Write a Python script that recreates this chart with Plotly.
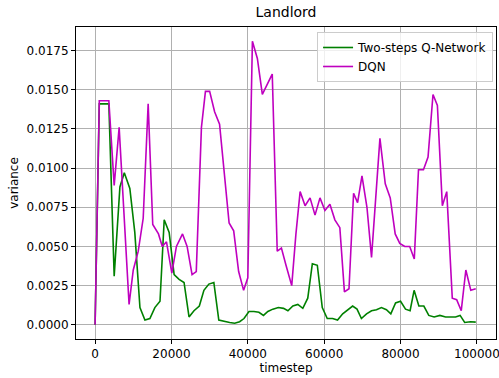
import plotly.graph_objects as go

# ---- data ----
green_x = [0, 1100, 3600, 5000, 6500, 7650, 9100, 10400, 11750, 13050,
           14350, 15650, 17000, 18100, 19400, 20700, 22000, 23300, 24600, 25900,
           27300, 28500, 29800, 31100, 32400, 33950, 35250, 36550, 37850, 39000,
           40300, 41600, 42900, 44100, 45250, 46550, 48000, 49350, 50500, 51800,
           53100, 54400, 55700, 56900, 58200, 59500, 60800, 62200, 63500, 64850,
           66150, 67450, 68600, 69750, 71100, 72400, 73700, 75000, 76300, 77450,
           78700, 80000, 81300, 82500, 83550, 84800, 86100, 87400, 88800, 90300,
           91800, 93100, 94400, 95600, 96800, 98300, 99700]
green_y = [0.0, 0.0141, 0.0141, 0.0031, 0.0088, 0.0097, 0.0087, 0.0059, 0.0011, 0.0003,
           0.0004, 0.0011, 0.0015, 0.0067, 0.0059, 0.0032, 0.0029, 0.0027, 0.0005, 0.0009,
           0.0012, 0.0022, 0.0026, 0.0027, 0.0003, 0.0002, 0.00015, 0.0001, 0.0002, 0.0004,
           0.00085, 0.00085, 0.0008, 0.0006, 0.00085, 0.0010, 0.0011, 0.00105, 0.0009, 0.0012,
           0.0013, 0.00105, 0.0017, 0.0039, 0.0038, 0.0011, 0.0004, 0.0004, 0.0003, 0.0007,
           0.00096, 0.0012, 0.0010, 0.0004, 0.0007, 0.0009, 0.00096, 0.0011, 0.00096, 0.0007,
           0.0014, 0.0015, 0.0010, 0.0009, 0.0022, 0.0012, 0.0012, 0.0006, 0.0005, 0.0006,
           0.0005, 0.0005, 0.0005, 0.0006, 0.00015, 0.0002, 0.00017]

dqn_x = [0, 1100, 3600, 5000, 6300, 8900, 10000, 11300, 12600, 13900,
         15100, 16600, 17600, 18700, 20100, 21300, 22900, 24100, 25400, 26500,
         27850, 28900, 30000, 31300, 32600, 35100, 36300, 37600, 38900, 40000,
         41200, 42500, 43800, 46400, 47700, 48800, 50000, 51500, 52600, 53700,
         55000, 56300, 57600, 58900, 60200, 61500, 62800, 64100, 65300, 66500,
         67700, 68750, 69900, 71200, 72400, 74600, 76000, 77300, 78600, 79800,
         81100, 82400, 83600, 84700, 86000, 87200, 88500, 89650, 90950, 92100,
         93550, 94700, 95900, 97100, 98400, 99700]
dqn_y = [0.0, 0.0143, 0.0143, 0.0089, 0.0126, 0.0013, 0.0035, 0.0047, 0.0068, 0.0141,
         0.0064, 0.0058, 0.0050, 0.0053, 0.0033, 0.0050, 0.0058, 0.0050, 0.0032, 0.0034,
         0.0126, 0.0149, 0.0149, 0.0136, 0.0128, 0.0065, 0.0060, 0.0034, 0.0022, 0.0030,
         0.0181, 0.0170, 0.0147, 0.0160, 0.0047, 0.0049, 0.0038, 0.0025, 0.0058, 0.0085,
         0.0076, 0.0081, 0.0070, 0.0081, 0.0073, 0.0077, 0.0067, 0.0062, 0.0021, 0.0023,
         0.0084, 0.0078, 0.0095, 0.0075, 0.0043, 0.0119, 0.0090, 0.0081, 0.0058, 0.0052,
         0.0050, 0.0050, 0.0042, 0.0099, 0.0099, 0.0107, 0.0147, 0.0140, 0.0076, 0.0085,
         0.0017, 0.0016, 0.0009, 0.0035, 0.0022, 0.0023]

series_names = ["Two-steps Q-Network", "DQN"]
x_ticks = [0, 20000, 40000, 60000, 80000, 100000]
y_ticks = [0.0, 0.0025, 0.005, 0.0075, 0.01, 0.0125, 0.015, 0.0175]

FONT = "DejaVu Sans"

fig = go.Figure()
fig.add_trace(go.Scatter(x=green_x, y=green_y, mode="lines", name=series_names[0],
                         line=dict(color="#008000", width=1.6)))
fig.add_trace(go.Scatter(x=dqn_x, y=dqn_y, mode="lines", name=series_names[1],
                         line=dict(color="#bf00bf", width=1.6)))

xmin, xmax = 0, 100000
xpad = (xmax - xmin) * 0.05
ymin = min(min(green_y), min(dqn_y))
ymax = max(max(green_y), max(dqn_y))
ypad = (ymax - ymin) * 0.05

axis_common = dict(showline=True, linecolor="black", linewidth=1, mirror=True,
                   showgrid=True, gridcolor="#b0b0b0", gridwidth=0.8,
                   ticks="outside", ticklen=4, tickcolor="black", tickwidth=1,
                   zeroline=False, automargin=False, ticklabeloverflow="allow",
                   tickfont=dict(family=FONT, size=12, color="black"))

fig.update_layout(
    width=499, height=378,
    margin=dict(l=76, r=3, t=27, b=39, autoexpand=False),
    paper_bgcolor="white", plot_bgcolor="white",
    font=dict(family=FONT, size=12, color="black"),
    title=dict(text="Landlord", x=0.5, xref="paper", y=1 - 12 / 378, yref="container",
               xanchor="center", yanchor="middle", font=dict(family=FONT, size=14, color="black")),
    xaxis=dict(range=[xmin - xpad, xmax + xpad], tickmode="array", tickvals=x_ticks,
               ticktext=[str(v) for v in x_ticks],
               title=dict(text="timestep", font=dict(family=FONT, size=12), standoff=2),
               **axis_common),
    yaxis=dict(range=[ymin - ypad, ymax + ypad], tickmode="array", tickvals=y_ticks,
               ticktext=[f"{v:.4f}" for v in y_ticks],
               title=dict(text="variance", font=dict(family=FONT, size=12), standoff=5),
               **axis_common),
    legend=dict(x=0.993, y=0.984, xanchor="right", yanchor="top",
                bgcolor="rgba(255,255,255,0.8)", bordercolor="#cccccc", borderwidth=1,
                font=dict(family=FONT, size=12), itemwidth=30, tracegroupgap=0),
    showlegend=True,
)

fig.write_html("out.html", config={"displayModeBar": False},
               post_script="document.body.style.margin='0';document.body.style.padding='0';")
